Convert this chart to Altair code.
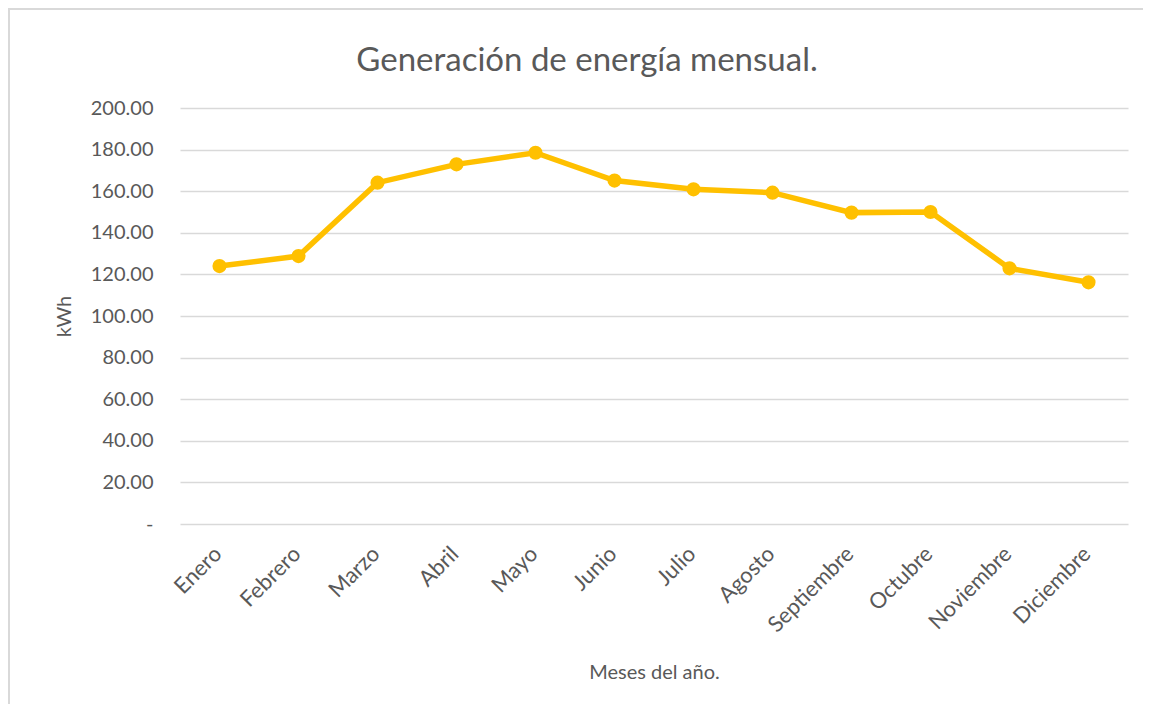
import altair as alt
import pandas as pd

meses = ["Enero", "Febrero", "Marzo", "Abril", "Mayo", "Junio", "Julio",
         "Agosto", "Septiembre", "Octubre", "Noviembre", "Diciembre"]
kwh = [124.0, 128.8, 164.1, 172.9, 178.5, 165.1, 160.9, 159.3, 149.7, 150.0, 122.9, 116.2]
y_ticks = [0, 20, 40, 60, 80, 100, 120, 140, 160, 180, 200]

df = pd.DataFrame({"Mes": meses, "kWh": kwh})

FONT = "Lato"
TXT = "#595959"
GRID = "#D9D9D9"
LINE = "#FFC000"

x_enc = alt.X(
    "Mes:N", sort=meses,
    scale=alt.Scale(type="point", padding=0.5),
    axis=alt.Axis(
        title="Meses del año.", labelAngle=-45, labelAlign="right", labelBaseline="top",
        labelPadding=19, labelOffset=-9, ticks=False, domain=False, grid=False,
        labelFont=FONT, labelFontSize=22, labelColor=TXT,
        titleFont=FONT, titleFontSize=20, titleColor=TXT, titleFontWeight="normal",
        titleY=138, titleBaseline="top",
    ),
)
y_enc = alt.Y(
    "kWh:Q",
    scale=alt.Scale(domain=[0, 200], nice=False),
    axis=alt.Axis(
        title="kWh", values=y_ticks,
        labelExpr="datum.value == 0 ? '-\u00a0\u00a0\u00a0' : format(datum.value, '.2f')",
        ticks=False, domain=False, grid=True, gridColor=GRID, gridWidth=1.5,
        labelPadding=27, labelFont=FONT, labelFontSize=20, labelColor=TXT,
        titleFont=FONT, titleFontSize=20, titleColor=TXT, titleFontWeight="normal",
        titleX=-116, titleY=208, titleAlign="center", titleBaseline="middle", titleAngle=-90,
    ),
)

one = pd.DataFrame({"a": [0]})
frame_left = alt.Chart(one).mark_rule(color=GRID, strokeWidth=2).encode(
    x=alt.value(-171), y=alt.value(-100), y2=alt.value(800)
)
frame_top = alt.Chart(one).mark_rule(color=GRID, strokeWidth=2).encode(
    x=alt.value(-172), x2=alt.value(1200), y=alt.value(-99)
)

line = alt.Chart(df).mark_line(color=LINE, strokeWidth=5.5).encode(x=x_enc, y=y_enc)
points = alt.Chart(df).mark_point(filled=True, color=LINE, size=200, opacity=1).encode(x=x_enc, y=y_enc)

chart = alt.layer(frame_left, frame_top, line, points).properties(
    width=948, height=416,
    title=alt.TitleParams(
        "Generación de energía mensual.", font=FONT, fontSize=33, color=TXT,
        fontWeight="normal", anchor="middle", offset=-71, frame="group", dx=-67,
    ),
    autosize=alt.AutoSizeParams(type="none"),
    padding={"left": 172, "top": 100, "right": 15, "bottom": 180},
).configure(background="white").configure_view(stroke=None)

chart.save("out.html", embed_options={"renderer": "svg", "actions": False})
